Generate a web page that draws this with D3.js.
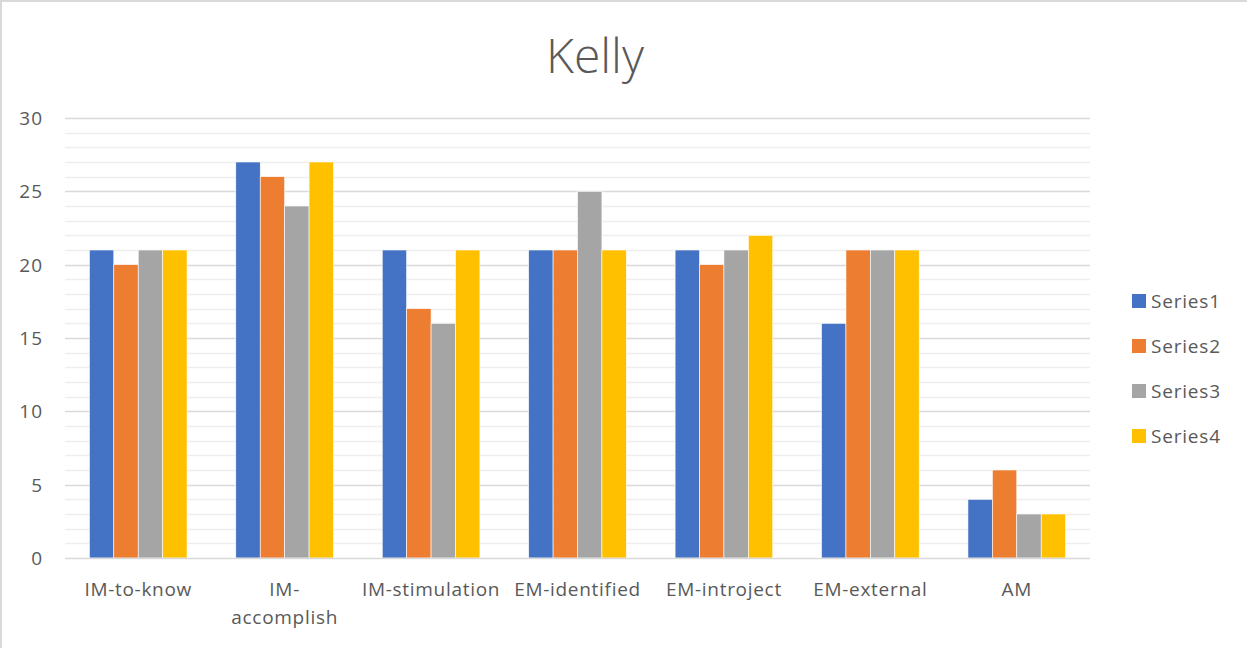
<!DOCTYPE html>
<html>
<head>
<meta charset="utf-8">
<script src="https://cdn.jsdelivr.net/npm/d3@7"></script>
<style>
  html, body { margin: 0; padding: 0; background: #fff; }
  svg { display: block; }
  svg text { font-family: "Open Sans", "Noto Sans", sans-serif; fill: #595959; }
</style>
</head>
<body>
<svg id="chart" width="1247" height="648"></svg>
<script>
// Motivation subscale scores per series
const categories = ["IM-to-know", "IM-accomplish", "IM-stimulation", "EM-identified", "EM-introject", "EM-external", "AM"];
const seriesNames = ["Series1", "Series2", "Series3", "Series4"];
const series1 = [21, 27, 21, 21, 21, 16, 4];
const series2 = [20, 26, 17, 21, 20, 21, 6];
const series3 = [21, 24, 16, 25, 21, 21, 3];
const series4 = [21, 27, 21, 21, 22, 21, 3];
const yTicks = [0, 5, 10, 15, 20, 25, 30];
const colors = ["#4472C4", "#ED7D31", "#A5A5A5", "#FFC000"];

const allSeries = [series1, series2, series3, series4];
const W = 1247, H = 648;
const plot = { left: 65, right: 1090, top: 118, bottom: 558 };
const FONT = '"Open Sans", "Noto Sans", sans-serif';

const svg = d3.select("#chart");

// chart frame (top and left edges)
svg.append("line").attr("x1", 0).attr("x2", W).attr("y1", 1).attr("y2", 1)
  .attr("stroke", "#d9d9d9").attr("stroke-width", 2);
svg.append("line").attr("x1", 1).attr("x2", 1).attr("y1", 0).attr("y2", H)
  .attr("stroke", "#d9d9d9").attr("stroke-width", 2);

const y = d3.scaleLinear().domain([0, 30]).range([plot.bottom, plot.top]);
const x0 = d3.scaleBand().domain(categories).range([plot.left, plot.right]).paddingInner(0).paddingOuter(0);
const groupWidth = x0.bandwidth() * 0.667;
const x1 = d3.scaleBand().domain(seriesNames).range([0, groupWidth]).padding(0);

// minor gridlines
svg.append("g").selectAll("line")
  .data(d3.range(0, 31).filter(v => v % 5 !== 0))
  .join("line")
  .attr("x1", plot.left).attr("x2", plot.right)
  .attr("y1", d => Math.round(y(d)) + 0.5).attr("y2", d => Math.round(y(d)) + 0.5)
  .attr("stroke", "#eeeeee").attr("stroke-width", 1.5);

// major gridlines
svg.append("g").selectAll("line")
  .data(yTicks.filter(v => v > 0))
  .join("line")
  .attr("x1", plot.left).attr("x2", plot.right)
  .attr("y1", d => Math.round(y(d)) + 0.5).attr("y2", d => Math.round(y(d)) + 0.5)
  .attr("stroke", "#d9d9d9").attr("stroke-width", 1.5);

// y axis labels
const yAxis = d3.axisLeft(y).tickValues(yTicks).tickSize(0).tickPadding(0);
const gy = svg.append("g").attr("transform", `translate(43,0)`).call(yAxis)
  .attr("font-family", FONT).attr("font-size", 19);
gy.select(".domain").remove();
gy.selectAll("text").attr("fill", "#595959").style("letter-spacing", "1px")
  .attr("dy", "0.35em");

// bars
const groups = svg.append("g").selectAll("g")
  .data(categories)
  .join("g")
  .attr("transform", d => `translate(${x0(d) + (x0.bandwidth() - groupWidth) / 2},0)`);

groups.selectAll("rect")
  .data((d, i) => seriesNames.map((s, j) => ({ s, j, v: allSeries[j][i] })))
  .join("rect")
  .attr("x", d => x1(d.s))
  .attr("width", x1.bandwidth())
  .attr("y", d => y(d.v))
  .attr("height", d => y(0) - y(d.v))
  .attr("fill", d => colors[d.j])
  .attr("stroke", "#ffffff").attr("stroke-width", 0.6);

// baseline
svg.append("line").attr("x1", plot.left).attr("x2", plot.right)
  .attr("y1", y(0) + 0.5).attr("y2", y(0) + 0.5)
  .attr("stroke", "#d9d9d9").attr("stroke-width", 1.5);

// x axis labels (wrap when wider than the category band)
const xAxis = d3.axisBottom(x0).tickSize(0).tickPadding(0);
const gx = svg.append("g").attr("transform", `translate(0,${plot.bottom})`).call(xAxis)
  .attr("font-family", FONT).attr("font-size", 19);
gx.select(".domain").remove();
gx.selectAll("text").attr("fill", "#595959")
  .style("letter-spacing", "0.7px")
  .attr("y", 0).attr("dy", 0)
  .each(function(d) {
    const t = d3.select(this);
    const lines = d === "IM-accomplish" ? ["IM-", "accomplish"] : [d];
    t.text(null);
    lines.forEach((ln, k) => {
      t.append("tspan").attr("x", 0).attr("y", 38 + k * 28).text(ln);
    });
  });

// title
svg.append("text").attr("x", 595).attr("y", 73).attr("text-anchor", "middle")
  .style("font-size", "48px").style("font-weight", 300)
  .text("Kelly");

// legend
const legend = svg.append("g").selectAll("g")
  .data(seriesNames)
  .join("g")
  .attr("transform", (d, i) => `translate(1132,${301 + i * 45})`);
legend.append("rect").attr("x", 0).attr("y", -7).attr("width", 14).attr("height", 14)
  .attr("fill", (d, i) => colors[i]);
legend.append("text").attr("x", 19).attr("y", 0).attr("dy", "0.35em")
  .style("font-size", "19px").style("letter-spacing", "0.8px")
  .text(d => d);
</script>
</body>
</html>
